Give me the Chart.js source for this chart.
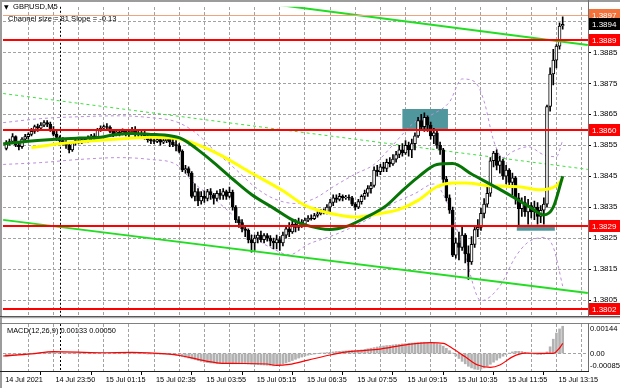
<!DOCTYPE html>
<html>
<head>
<meta charset="utf-8">
<title>GBPUSD,M5</title>
<script src="https://cdn.jsdelivr.net/npm/chart.js@4.4.1/dist/chart.umd.min.js"></script>
<style>
  html, body { margin: 0; padding: 0; background: #ffffff; }
  #box { position: relative; width: 620px; height: 388px; overflow: hidden; background: #ffffff; }
  #mainChart { position: absolute; left: 0; top: 0; }
  #macdChart { position: absolute; left: 0; top: 322px; }
</style>
</head>
<body>
<div id="box">
  <canvas id="mainChart" width="620" height="323"></canvas>
  <canvas id="macdChart" width="620" height="66"></canvas>
</div>
<script>
// --- datos de velas M5 (barra 0 = 22:35 del 14 jul) ---
const opens = [
  1.38540, 1.38555, 1.38562, 1.38578, 1.38550, 1.38545, 1.38570, 1.38578, 1.38585, 1.38595,
  1.38610, 1.38605, 1.38615, 1.38623, 1.38618, 1.38600, 1.38585, 1.38575, 1.38565, 1.38555,
  1.38550, 1.38535, 1.38558, 1.38565, 1.38560, 1.38568, 1.38563, 1.38573, 1.38580, 1.38575,
  1.38600, 1.38605, 1.38610, 1.38608, 1.38595, 1.38585, 1.38593, 1.38588, 1.38595, 1.38585,
  1.38593, 1.38600, 1.38585, 1.38588, 1.38585, 1.38580, 1.38568, 1.38565, 1.38562, 1.38568,
  1.38560, 1.38565, 1.38570, 1.38560, 1.38552, 1.38548, 1.38530, 1.38470, 1.38475, 1.38460,
  1.38385, 1.38400, 1.38370, 1.38385, 1.38378, 1.38400, 1.38390, 1.38378, 1.38395, 1.38388,
  1.38400, 1.38385, 1.38398, 1.38350, 1.38310, 1.38300, 1.38280, 1.38275, 1.38245, 1.38235,
  1.38250, 1.38260, 1.38245, 1.38258, 1.38250, 1.38240, 1.38235, 1.38245, 1.38235, 1.38260,
  1.38280, 1.38270, 1.38295, 1.38285, 1.38300, 1.38295, 1.38308, 1.38315, 1.38313, 1.38323,
  1.38328, 1.38335, 1.38333, 1.38350, 1.38365, 1.38380, 1.38375, 1.38385, 1.38380, 1.38383,
  1.38380, 1.38360, 1.38350, 1.38368, 1.38385, 1.38395, 1.38410, 1.38420, 1.38470, 1.38465,
  1.38480, 1.38475, 1.38495, 1.38490, 1.38505, 1.38520, 1.38535, 1.38525, 1.38550, 1.38535,
  1.38555, 1.38580, 1.38630, 1.38610, 1.38640, 1.38615, 1.38580, 1.38590, 1.38550, 1.38535,
  1.38440, 1.38380, 1.38340, 1.38195, 1.38235, 1.38220, 1.38260, 1.38200, 1.38173, 1.38230,
  1.38278, 1.38285, 1.38330, 1.38360, 1.38395, 1.38500, 1.38525, 1.38485, 1.38500, 1.38450,
  1.38470, 1.38430, 1.38445, 1.38380, 1.38345, 1.38365, 1.38335, 1.38355, 1.38335, 1.38350,
  1.38320, 1.38340, 1.38360, 1.38675, 1.38780, 1.38825, 1.38870, 1.38935
];
const highs = [
  1.38565, 1.38570, 1.38588, 1.38580, 1.38560, 1.38575, 1.38585, 1.38590, 1.38605, 1.38615,
  1.38618, 1.38623, 1.38630, 1.38630, 1.38625, 1.38610, 1.38595, 1.38580, 1.38575, 1.38565,
  1.38555, 1.38563, 1.38570, 1.38570, 1.38573, 1.38575, 1.38580, 1.38585, 1.38588, 1.38605,
  1.38613, 1.38615, 1.38620, 1.38613, 1.38600, 1.38600, 1.38598, 1.38603, 1.38600, 1.38598,
  1.38608, 1.38610, 1.38595, 1.38595, 1.38595, 1.38585, 1.38575, 1.38570, 1.38575, 1.38575,
  1.38572, 1.38580, 1.38575, 1.38570, 1.38565, 1.38555, 1.38535, 1.38485, 1.38480, 1.38465,
  1.38425, 1.38410, 1.38400, 1.38403, 1.38408, 1.38410, 1.38395, 1.38403, 1.38408, 1.38410,
  1.38405, 1.38415, 1.38405, 1.38355, 1.38320, 1.38310, 1.38290, 1.38280, 1.38260, 1.38260,
  1.38270, 1.38273, 1.38265, 1.38265, 1.38258, 1.38250, 1.38260, 1.38255, 1.38270, 1.38290,
  1.38300, 1.38310, 1.38310, 1.38315, 1.38310, 1.38315, 1.38323, 1.38325, 1.38330, 1.38335,
  1.38343, 1.38345, 1.38358, 1.38375, 1.38390, 1.38390, 1.38395, 1.38390, 1.38388, 1.38390,
  1.38385, 1.38365, 1.38375, 1.38390, 1.38405, 1.38420, 1.38430, 1.38480, 1.38485, 1.38488,
  1.38495, 1.38505, 1.38510, 1.38520, 1.38530, 1.38550, 1.38555, 1.38565, 1.38560, 1.38570,
  1.38590, 1.38640, 1.38650, 1.38655, 1.38645, 1.38625, 1.38605, 1.38595, 1.38560, 1.38540,
  1.38450, 1.38390, 1.38350, 1.38250, 1.38270, 1.38285, 1.38265, 1.38225, 1.38255, 1.38285,
  1.38310, 1.38347, 1.38378, 1.38420, 1.38510, 1.38530, 1.38535, 1.38515, 1.38505, 1.38485,
  1.38475, 1.38460, 1.38450, 1.38395, 1.38380, 1.38385, 1.38375, 1.38365, 1.38370, 1.38365,
  1.38355, 1.38380, 1.38680, 1.38800, 1.38860, 1.38875, 1.38945, 1.38965
];
const lows = [
  1.38535, 1.38550, 1.38555, 1.38545, 1.38535, 1.38540, 1.38565, 1.38570, 1.38580, 1.38588,
  1.38595, 1.38600, 1.38610, 1.38610, 1.38595, 1.38580, 1.38565, 1.38555, 1.38550, 1.38540,
  1.38525, 1.38530, 1.38550, 1.38555, 1.38555, 1.38558, 1.38560, 1.38565, 1.38568, 1.38570,
  1.38595, 1.38600, 1.38603, 1.38590, 1.38578, 1.38580, 1.38580, 1.38583, 1.38580, 1.38578,
  1.38588, 1.38578, 1.38575, 1.38578, 1.38570, 1.38560, 1.38555, 1.38555, 1.38558, 1.38550,
  1.38555, 1.38558, 1.38545, 1.38545, 1.38532, 1.38525, 1.38465, 1.38460, 1.38450, 1.38380,
  1.38370, 1.38355, 1.38360, 1.38365, 1.38370, 1.38375, 1.38360, 1.38370, 1.38375, 1.38375,
  1.38375, 1.38380, 1.38340, 1.38300, 1.38285, 1.38270, 1.38255, 1.38235, 1.38205, 1.38210,
  1.38235, 1.38238, 1.38235, 1.38240, 1.38225, 1.38215, 1.38215, 1.38210, 1.38225, 1.38250,
  1.38255, 1.38265, 1.38270, 1.38275, 1.38285, 1.38290, 1.38303, 1.38308, 1.38310, 1.38318,
  1.38325, 1.38328, 1.38328, 1.38335, 1.38355, 1.38365, 1.38370, 1.38370, 1.38375, 1.38373,
  1.38355, 1.38340, 1.38345, 1.38360, 1.38375, 1.38385, 1.38395, 1.38415, 1.38450, 1.38455,
  1.38465, 1.38465, 1.38480, 1.38485, 1.38495, 1.38510, 1.38515, 1.38520, 1.38515, 1.38510,
  1.38535, 1.38575, 1.38600, 1.38595, 1.38595, 1.38570, 1.38555, 1.38540, 1.38520, 1.38430,
  1.38370, 1.38330, 1.38190, 1.38185, 1.38180, 1.38210, 1.38170, 1.38117, 1.38165, 1.38220,
  1.38255, 1.38275, 1.38315, 1.38350, 1.38385, 1.38480, 1.38470, 1.38460, 1.38440, 1.38425,
  1.38415, 1.38390, 1.38360, 1.38290, 1.38320, 1.38320, 1.38295, 1.38315, 1.38310, 1.38295,
  1.38300, 1.38295, 1.38350, 1.38660, 1.38745, 1.38800, 1.38860, 1.38925
];
const closes = [
  1.38555, 1.38562, 1.38578, 1.38550, 1.38545, 1.38570, 1.38578, 1.38585, 1.38595, 1.38610,
  1.38605, 1.38615, 1.38623, 1.38618, 1.38600, 1.38585, 1.38575, 1.38565, 1.38555, 1.38550,
  1.38535, 1.38558, 1.38565, 1.38560, 1.38568, 1.38563, 1.38573, 1.38580, 1.38575, 1.38600,
  1.38605, 1.38610, 1.38608, 1.38595, 1.38585, 1.38593, 1.38588, 1.38595, 1.38585, 1.38593,
  1.38600, 1.38585, 1.38588, 1.38585, 1.38580, 1.38568, 1.38565, 1.38562, 1.38568, 1.38560,
  1.38565, 1.38570, 1.38560, 1.38552, 1.38548, 1.38530, 1.38470, 1.38475, 1.38460, 1.38385,
  1.38400, 1.38370, 1.38385, 1.38378, 1.38400, 1.38390, 1.38378, 1.38395, 1.38388, 1.38400,
  1.38385, 1.38398, 1.38350, 1.38310, 1.38300, 1.38280, 1.38275, 1.38245, 1.38235, 1.38250,
  1.38260, 1.38245, 1.38258, 1.38250, 1.38240, 1.38235, 1.38245, 1.38235, 1.38260, 1.38280,
  1.38270, 1.38295, 1.38285, 1.38300, 1.38295, 1.38308, 1.38315, 1.38313, 1.38323, 1.38328,
  1.38335, 1.38333, 1.38350, 1.38365, 1.38380, 1.38375, 1.38385, 1.38380, 1.38383, 1.38380,
  1.38360, 1.38350, 1.38368, 1.38385, 1.38395, 1.38410, 1.38420, 1.38470, 1.38465, 1.38480,
  1.38475, 1.38495, 1.38490, 1.38505, 1.38520, 1.38535, 1.38525, 1.38550, 1.38535, 1.38555,
  1.38580, 1.38630, 1.38610, 1.38640, 1.38615, 1.38580, 1.38590, 1.38550, 1.38535, 1.38440,
  1.38380, 1.38340, 1.38195, 1.38235, 1.38220, 1.38260, 1.38200, 1.38173, 1.38230, 1.38278,
  1.38285, 1.38330, 1.38360, 1.38395, 1.38500, 1.38525, 1.38485, 1.38500, 1.38450, 1.38470,
  1.38430, 1.38445, 1.38380, 1.38345, 1.38365, 1.38335, 1.38355, 1.38335, 1.38350, 1.38320,
  1.38340, 1.38360, 1.38675, 1.38780, 1.38825, 1.38870, 1.38935, 1.38940
];

// medias moviles (por barra)
const greenMaBars = [-1, 4, 11, 17, 23, 30, 35, 40, 46, 51, 56, 61, 66, 72, 78, 85, 91, 95, 103, 108, 114, 121, 125, 131, 137, 142, 148, 156, 162, 167, 171, 174, 177];
const greenMaValues = [1.38554, 1.38560, 1.38566, 1.38570, 1.38573, 1.38576, 1.38585, 1.38588, 1.38585, 1.38582, 1.38570, 1.38535, 1.38494, 1.38441, 1.38391, 1.38347, 1.38309, 1.38293, 1.38278, 1.38287, 1.38315, 1.38356, 1.38394, 1.38447, 1.38488, 1.38491, 1.38457, 1.38413, 1.38378, 1.38347, 1.38325, 1.38350, 1.38450];
const yellowMaBars = [8, 19, 30, 40, 46, 55, 61, 68, 77, 88, 95, 104, 111, 118, 125, 131, 137, 142, 146, 154, 163, 170, 175, 177];
const yellowMaValues = [1.38543, 1.38557, 1.38566, 1.38573, 1.38576, 1.38570, 1.38551, 1.38519, 1.38466, 1.38403, 1.38356, 1.38328, 1.38318, 1.38328, 1.38343, 1.38372, 1.38416, 1.38428, 1.38428, 1.38419, 1.38416, 1.38406, 1.38419, 1.38441];

// bandas (lineas violetas discontinuas)
const upperBandBars = [-1, 11, 23, 36, 46, 54, 60, 66, 73, 79, 85, 92, 98, 104, 111, 117, 123, 130, 136, 141, 145, 149, 152, 155, 158, 161, 166, 171, 175, 177];
const upperBandValues = [1.38623, 1.38636, 1.38642, 1.38645, 1.38639, 1.38626, 1.38592, 1.38535, 1.38472, 1.38416, 1.38378, 1.38362, 1.38378, 1.38416, 1.38457, 1.38488, 1.38551, 1.38625, 1.38652, 1.38690, 1.38764, 1.38755, 1.38692, 1.38566, 1.38510, 1.38529, 1.38545, 1.38519, 1.38513, 1.38566];
const lowerBandBars = [-1, 11, 23, 36, 46, 54, 60, 66, 73, 79, 85, 90, 96, 104, 111, 117, 123, 130, 136, 141, 146, 151, 157, 162, 166, 171, 174, 177];
const lowerBandValues = [1.38488, 1.38494, 1.38504, 1.38510, 1.38504, 1.38488, 1.38425, 1.38378, 1.38315, 1.38252, 1.38215, 1.38196, 1.38230, 1.38259, 1.38290, 1.38322, 1.38362, 1.38394, 1.38425, 1.38347, 1.38190, 1.38048, 1.38095, 1.38190, 1.38237, 1.38252, 1.38221, 1.38095];

// canal de regresion (extremos)
const channelBars = [-1, 185];
const channelTop = [1.39118, 1.38874];
const channelMid = [1.38717, 1.38472];
const channelLow = [1.38309, 1.38073];

// niveles horizontales y etiquetas de precio
const levels = [1.3889, 1.3860, 1.3829, 1.3802];
const dayHigh = 1.3897;
const lastPrice = 1.3894;
const priceTicks = [1.3805, 1.3815, 1.3825, 1.3835, 1.3845, 1.3855, 1.3865, 1.3875, 1.3885, 1.3895];
const priceTickLabels = ['1.3805', '1.3815', '1.3825', '1.3835', '1.3845', '1.3855', '1.3865', '1.3875', '1.3885', '1.3895'];

// rectangulos de zona
const boxStart = [126, 162.4];
const boxEnd = [140.5, 174.5];
const boxLow = [1.38602, 1.38274];
const boxHigh = [1.38667, 1.38293];

// MACD(12,26,9): histograma por barra y linea de senal
const macdHist = [
  -0.00012, -0.00011, -0.00010, -0.00008, -0.00006, -0.00005, -0.00003, -0.00002, 0.00000, 0.00002,
  0.00003, 0.00005, 0.00006, 0.00006, 0.00006, 0.00006, 0.00005, 0.00004, 0.00003, 0.00002,
  0.00002, 0.00002, 0.00002, 0.00002, 0.00002, 0.00002, 0.00003, 0.00003, 0.00003, 0.00003,
  0.00003, 0.00003, 0.00003, 0.00003, 0.00003, 0.00002, 0.00002, 0.00002, 0.00002, 0.00002,
  0.00001, 0.00001, 0.00000, 0.00000, 0.00000, -0.00001, -0.00001, -0.00002, -0.00002, -0.00003,
  -0.00003, -0.00004, -0.00005, -0.00006, -0.00008, -0.00010, -0.00014, -0.00018, -0.00022, -0.00026,
  -0.00030, -0.00034, -0.00038, -0.00042, -0.00044, -0.00046, -0.00047, -0.00048, -0.00048, -0.00049,
  -0.00049, -0.00049, -0.00050, -0.00050, -0.00050, -0.00050, -0.00050, -0.00051, -0.00052, -0.00053,
  -0.00054, -0.00055, -0.00056, -0.00057, -0.00058, -0.00060, -0.00058, -0.00055, -0.00051, -0.00046,
  -0.00040, -0.00034, -0.00028, -0.00022, -0.00017, -0.00012, -0.00008, -0.00005, -0.00002, 0.00000,
  0.00002, 0.00003, 0.00005, 0.00006, 0.00008, 0.00010, 0.00011, 0.00012, 0.00013, 0.00014,
  0.00015, 0.00015, 0.00016, 0.00018, 0.00020, 0.00023, 0.00026, 0.00029, 0.00032, 0.00035,
  0.00037, 0.00039, 0.00040, 0.00042, 0.00044, 0.00045, 0.00047, 0.00048, 0.00050, 0.00051,
  0.00052, 0.00053, 0.00054, 0.00055, 0.00054, 0.00053, 0.00051, 0.00048, 0.00044, 0.00036,
  0.00026, 0.00014, 0.00002, -0.00012, -0.00024, -0.00038, -0.00050, -0.00062, -0.00070, -0.00076,
  -0.00078, -0.00076, -0.00070, -0.00062, -0.00052, -0.00042, -0.00032, -0.00022, -0.00013, -0.00005,
  0.00002, 0.00008, 0.00011, 0.00011, 0.00010, 0.00006, 0.00003, 0.00000, -0.00003, -0.00005,
  -0.00005, -0.00003, 0.00008, 0.00033, 0.00070, 0.00100, 0.00120, 0.00133
];
const signalBars = [-1, 8, 15, 30, 40, 51, 56, 61, 67, 72, 83, 86, 90, 96, 103, 109, 118, 128, 135, 139, 142, 146, 150, 154, 157, 161, 165, 170, 174, 176, 177];
const signalValues = [-0.00012, -0.00002, 0.00009, 0.00004, 0.00006, -0.00002, -0.00012, -0.00028, -0.00045, -0.00048, -0.00051, -0.00058, -0.00053, -0.00032, -0.00007, 0.00009, 0.00020, 0.00045, 0.00053, 0.00050, 0.00025, -0.00016, -0.00056, -0.00067, -0.00056, -0.00016, 0.00002, 0.00001, 0.00001, 0.00027, 0.00050];
const macdTicks = [0.00144, 0, -0.00085];
const macdTickLabels = ['0.00144', '0.00', '-0.00085'];

// eje de tiempo
const timeLabels = ['14 Jul 2021', '14 Jul 23:50', '15 Jul 01:15', '15 Jul 02:35', '15 Jul 03:55', '15 Jul 05:15', '15 Jul 06:35', '15 Jul 07:55', '15 Jul 09:15', '15 Jul 10:35', '15 Jul 11:55', '15 Jul 13:15'];
const timeLabelBars = [-1, 15, 31, 47, 63, 79, 95, 111, 127, 143, 159, 175];
const gridBars = [7, 15, 23, 31, 39, 47, 55, 63, 71, 79, 87, 95, 103, 111, 119, 127, 135, 143, 151, 159, 167, 175, 183];
const daySeparatorBar = 17;

// --- configuracion ---
const FONT = '"Liberation Sans", Arial, sans-serif';
Chart.defaults.font.family = FONT;
const xMin = -1.05, xMax = 185.05;
const xTicks = [...new Set([...timeLabelBars, ...gridBars])].sort((a, b) => a - b);
const GRID = '#a2a2a2';

const pts = (xs, ys) => xs.map((v, i) => ({ x: v, y: ys[i] }));

// rejilla punteada: segmentos de 3px cada 5px, en las posiciones de las escalas
function dashedGrid(chart, xValues, yValues) {
  const { ctx, chartArea: a, scales } = chart;
  const left = Math.ceil(a.left), right = Math.floor(a.right);
  const top = Math.ceil(a.top), bottom = Math.floor(a.bottom);
  ctx.save();
  ctx.fillStyle = GRID;
  xValues.forEach(v => {
    const px = Math.floor(scales.x.getPixelForValue(v));
    for (let py = top; py < bottom; py += 5) ctx.fillRect(px, py, 1, Math.min(3, bottom - py));
  });
  yValues.forEach(v => {
    const py = Math.floor(scales.y.getPixelForValue(v));
    for (let px = left; px < right; px += 5) ctx.fillRect(px, py, Math.min(3, right - px), 1);
  });
  ctx.restore();
}

function xAxis(showLabels) {
  return {
    type: 'linear', min: xMin, max: xMax, offset: false,
    afterBuildTicks: s => { s.ticks = xTicks.map(v => ({ value: v })); },
    afterFit: s => { s.height = showLabels ? 17 : 0; },
    ticks: {
      display: showLabels, autoSkip: false, maxRotation: 0, minRotation: 0,
      align: 'start', labelOffset: 2, padding: 1, color: '#000',
      font: { size: 7.3 },
      callback: v => { const k = timeLabelBars.indexOf(v); return k >= 0 ? timeLabels[k] : ''; }
    },
    grid: {
      drawOnChartArea: false,
      drawTicks: showLabels, tickLength: 4,
      tickColor: c => (c.tick && timeLabelBars.includes(c.tick.value)) ? '#000' : 'rgba(0,0,0,0)'
    },
    border: { display: false }
  };
}

function drawSeparator(chart) {
  const { ctx, chartArea: a, scales: { x } } = chart;
  const sx = Math.round(x.getPixelForValue(daySeparatorBar)) + 0.5;
  ctx.save();
  ctx.strokeStyle = '#000';
  ctx.lineWidth = 1;
  ctx.setLineDash([2, 2]);
  ctx.beginPath();
  ctx.moveTo(sx, a.top);
  ctx.lineTo(sx, a.bottom);
  ctx.stroke();
  ctx.restore();
}

function priceTag(ctx, a, y, value, bg) {
  const py = Math.round(y.getPixelForValue(value));
  ctx.fillStyle = bg;
  ctx.fillRect(a.right + 1, py - 6, 31, 12);
  ctx.fillStyle = '#ffffff';
  ctx.fillText(value.toFixed(4), a.right + 4, py + 0.5);
}

const mainDecor = {
  id: 'mainDecor',
  beforeDatasetsDraw(chart) {
    const { ctx, chartArea: a, scales: { x, y } } = chart;
    dashedGrid(chart, gridBars, priceTicks);
    ctx.save();
    ctx.beginPath();
    ctx.rect(a.left, a.top, a.right - a.left, a.bottom - a.top);
    ctx.clip();
    ctx.fillStyle = '#4f979c';
    boxStart.forEach((b, i) => {
      const x1 = x.getPixelForValue(b), x2 = x.getPixelForValue(boxEnd[i]);
      const y1 = y.getPixelForValue(boxHigh[i]), y2 = y.getPixelForValue(boxLow[i]);
      ctx.fillRect(x1, y1, x2 - x1, y2 - y1);
    });
    ctx.restore();
    drawSeparator(chart);
  },
  afterDatasetsDraw(chart) {
    const { ctx, chartArea: a, scales: { y } } = chart;
    ctx.save();
    const hy = Math.round(y.getPixelForValue(dayHigh));
    ctx.fillStyle = '#f2a27c';
    ctx.fillRect(a.left, hy, a.right - a.left, 1);
    ctx.fillStyle = '#ff0000';
    levels.forEach(v => {
      const py = Math.round(y.getPixelForValue(v));
      ctx.fillRect(a.left, py - 1, a.right - a.left, 2);
    });
    ctx.restore();
  },
  afterDraw(chart) {
    const { ctx, chartArea: a, scales: { y } } = chart;
    ctx.save();
    // marco
    ctx.fillStyle = '#9c9c9c';
    ctx.fillRect(0, 0, chart.width, 2);
    ctx.fillRect(0, 0, 2, chart.height);
    ctx.fillStyle = '#707070';
    ctx.fillRect(a.right, 0, 1, a.bottom);
    ctx.fillStyle = '#303030';
    ctx.fillRect(0, a.bottom, chart.width, 1);
    ctx.fillStyle = '#a0a0a0';
    ctx.fillRect(0, a.bottom + 1, chart.width, 1);
    // etiquetas de precio
    ctx.font = '8px ' + FONT;
    ctx.textBaseline = 'middle';
    ctx.textAlign = 'left';
    priceTag(ctx, a, y, dayHigh, '#f4713a');
    priceTag(ctx, a, y, lastPrice, '#000000');
    levels.forEach(v => priceTag(ctx, a, y, v, '#ff0000'));
    // titulo
    ctx.fillStyle = '#000';
    ctx.font = '6px "DejaVu Sans", sans-serif';
    ctx.fillText('\u25BC', 4, 7);
    ctx.font = '7.6px ' + FONT;
    ctx.fillText('GBPUSD,M5', 13, 6.5);
    ctx.fillText('Channel size = 81 Slope = -0.13', 8, 18.5);
    ctx.restore();
  }
};

const macdDecor = {
  id: 'macdDecor',
  beforeDatasetsDraw(chart) {
    dashedGrid(chart, gridBars, [0]);
    drawSeparator(chart);
  },
  afterDraw(chart) {
    const { ctx, chartArea: a, scales: { y } } = chart;
    ctx.save();
    ctx.fillStyle = '#9c9c9c';
    ctx.fillRect(0, 0, 2, chart.height);
    ctx.fillStyle = '#808080';
    ctx.fillRect(0, a.top - 1, chart.width, 1);
    ctx.fillStyle = '#707070';
    ctx.fillRect(a.right, a.top - 1, 1, a.bottom - a.top + 1);
    ctx.fillStyle = '#202020';
    ctx.fillRect(0, a.bottom, a.right + 1, 1);
    ctx.fillStyle = '#000';
    ctx.font = '7.4px ' + FONT;
    ctx.textBaseline = 'middle';
    ctx.fillText('MACD(12,26,9) 0.00133 0.00050', a.left + 4, a.top + 7);
    ctx.font = '7.6px ' + FONT;
    macdTicks.forEach((v, i) => {
      let py = y.getPixelForValue(v);
      py = Math.min(Math.max(py, a.top + 5), a.bottom - 5);
      ctx.fillText(macdTickLabels[i], a.right + 2, py);
    });
    ctx.restore();
  }
};

const bars = closes.map((c, i) => i);

// --- grafico de precios ---
new Chart(document.getElementById('mainChart'), {
  type: 'bar',
  data: {
    datasets: [
      { type: 'line', data: pts(upperBandBars, upperBandValues), borderColor: '#bb8fdc', borderWidth: 1, borderDash: [3, 3], pointRadius: 0, cubicInterpolationMode: 'monotone', order: 60 },
      { type: 'line', data: pts(lowerBandBars, lowerBandValues), borderColor: '#bb8fdc', borderWidth: 1, borderDash: [3, 3], pointRadius: 0, cubicInterpolationMode: 'monotone', order: 59 },
      { type: 'line', data: pts(channelBars, channelMid), borderColor: '#3fe03f', borderWidth: 1, borderDash: [3, 3], pointRadius: 0, order: 58 },
      { type: 'bar', data: bars.map(i => ({ x: i, y: [lows[i], highs[i]] })), backgroundColor: '#000', barThickness: 1, grouped: false, order: 40 },
      { type: 'bar', data: bars.map(i => ({ x: i, y: [opens[i], closes[i]] })),
        backgroundColor: bars.map(i => closes[i] >= opens[i] ? '#ffffff' : '#000000'),
        borderColor: '#000', borderWidth: 1, borderSkipped: false, barThickness: 3, grouped: false, order: 39 },
      { type: 'line', data: pts(yellowMaBars, yellowMaValues), borderColor: '#ffff00', borderWidth: 3, pointRadius: 0, cubicInterpolationMode: 'monotone', order: 20 },
      { type: 'line', data: pts(greenMaBars, greenMaValues), borderColor: '#067506', borderWidth: 3, pointRadius: 0, cubicInterpolationMode: 'monotone', order: 19 },
      { type: 'line', data: pts(channelBars, channelTop), borderColor: '#22dd22', borderWidth: 2, pointRadius: 0, order: 10 },
      { type: 'line', data: pts(channelBars, channelLow), borderColor: '#22dd22', borderWidth: 2, pointRadius: 0, order: 9 }
    ]
  },
  options: {
    responsive: false,
    animation: false,
    events: [],
    layout: { padding: { left: 3, top: 3, right: 0, bottom: 2 } },
    plugins: { legend: { display: false }, tooltip: { enabled: false } },
    scales: {
      x: xAxis(false),
      y: {
        type: 'linear', position: 'right', min: 1.37998, max: 1.38997,
        afterBuildTicks: s => { s.ticks = priceTicks.map(v => ({ value: v })); },
        afterFit: s => { s.width = 32; },
        ticks: { color: '#000', font: { size: 8 }, padding: 2, callback: (v, i) => priceTickLabels[i] },
        grid: { drawOnChartArea: false, tickLength: 3, tickColor: '#000' },
        border: { display: false }
      }
    }
  },
  plugins: [mainDecor]
});

// --- MACD ---
new Chart(document.getElementById('macdChart'), {
  type: 'bar',
  data: {
    datasets: [
      { type: 'bar', data: bars.map(i => ({ x: i, y: macdHist[i] })), backgroundColor: '#b2b2b2', barThickness: 2, grouped: false, order: 5 },
      { type: 'line', data: pts(signalBars, signalValues), borderColor: '#ff0000', borderWidth: 1.2, pointRadius: 0, cubicInterpolationMode: 'monotone', order: 1 }
    ]
  },
  options: {
    responsive: false,
    animation: false,
    events: [],
    layout: { padding: { left: 3, top: 2, right: 0, bottom: 0 } },
    plugins: { legend: { display: false }, tooltip: { enabled: false } },
    scales: {
      x: xAxis(true),
      y: {
        type: 'linear', position: 'right', min: -0.00085, max: 0.00144,
        afterBuildTicks: s => { s.ticks = [{ value: 0 }]; },
        afterFit: s => { s.width = 32; },
        ticks: { display: false },
        grid: { drawOnChartArea: false, drawTicks: false },
        border: { display: false }
      }
    }
  },
  plugins: [macdDecor]
});
</script>
</body>
</html>
